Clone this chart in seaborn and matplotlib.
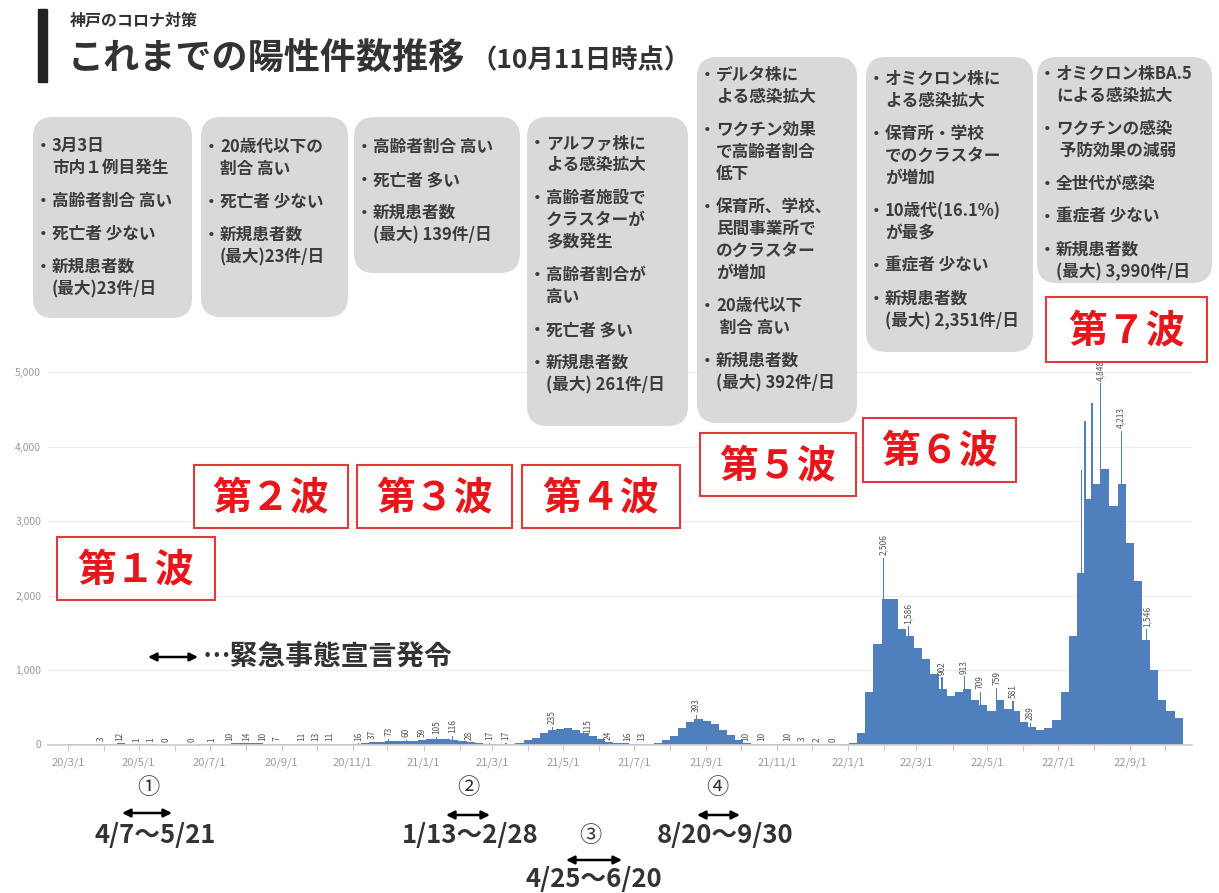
import numpy as np
import pandas as pd
import matplotlib.pyplot as plt
import matplotlib.dates as mdates
from matplotlib.patches import FancyBboxPatch, Rectangle
import seaborn as sns

sns.set_theme(style='white')
plt.rcParams['font.family'] = ['Noto Sans CJK JP', 'DejaVu Sans']

W, H = 1219, 893
BAR = '#4f7fbd'
TXT = '#3c3c3c'
RED = '#e8161b'

# weekly new cases, weeks starting 2020-03-01 (estimated from the chart)
weekly_cases = [
    2, 3, 4, 5, 8, 12, 14, 10, 6, 2,
    1, 0, 0, 0, 0, 0, 1, 1, 3, 8,
    14, 16, 18, 15, 10, 8, 5, 4, 5, 3,
    5, 6, 4, 5, 6, 10, 18, 30, 38, 42,
    48, 52, 50, 60, 75, 75, 70, 65, 45, 30,
    20, 12, 10, 10, 12, 20, 60, 90, 150, 190,
    210, 220, 190, 160, 110, 70, 35, 20, 15, 12,
    10, 12, 25, 60, 120, 220, 300, 340, 320, 280,
    200, 130, 60, 20, 12, 8, 6, 5, 5, 4,
    4, 3, 3, 3, 3, 6, 20, 150, 700, 1350,
    1950, 1950, 1550, 1450, 1300, 1150, 950, 750, 650, 700,
    750, 600, 530, 450, 600, 480, 450, 300, 240, 200,
    220, 330, 700, 1450, 2300, 3300, 3500, 3700, 3200, 3500,
    2700, 2200, 1400, 1000, 600, 450, 350,
]

# single days that carry a value label on the chart
label_dates = [
    '2020-03-30', '2020-04-15', '2020-04-29', '2020-05-11', '2020-05-25',
    '2020-06-16', '2020-07-03', '2020-07-18', '2020-08-02', '2020-08-16',
    '2020-08-28', '2020-09-18', '2020-09-30', '2020-10-12', '2020-11-06',
    '2020-11-18', '2020-12-02', '2020-12-17', '2020-12-31', '2021-01-12',
    '2021-01-26', '2021-02-09', '2021-02-27', '2021-03-13', '2021-04-22',
    '2021-05-22', '2021-06-09', '2021-06-26', '2021-07-08', '2021-08-24',
    '2021-10-05', '2021-10-19', '2021-11-10', '2021-11-23', '2021-12-06',
    '2021-12-19',
    '2022-02-01', '2022-02-22', '2022-03-23', '2022-04-11', '2022-04-25',
    '2022-05-09', '2022-05-23', '2022-06-07', '2022-08-06', '2022-08-24',
    '2022-09-15',
]
label_values = [
    3, 12, 1, 1, 0, 0, 1, 10, 14, 10,
    7, 11, 13, 11, 16, 37, 73, 60, 59, 105,
    116, 28, 17, 17, 235, 115, 24, 16, 13, 393,
    10, 10, 10, 3, 2, 0,
    2506, 1586, 902, 913, 709, 759, 581, 289, 4848, 4213,
    1546,
]

# other tall single days in the 7th wave
spike_dates = ['2022-07-21', '2022-07-24', '2022-07-30']
spike_values = [3680, 4340, 4590]

y_ticks = [0, 1000, 2000, 3000, 4000, 5000]

wave_names = ['第１波', '第２波', '第３波', '第４波', '第５波', '第６波', '第７波']

notes = [
    [['3月3日', '市内１例目発生'], ['高齢者割合 高い'], ['死亡者 少ない'], ['新規患者数', '(最大)23件/日']],
    [['20歳代以下の', '割合 高い'], ['死亡者 少ない'], ['新規患者数', '(最大)23件/日']],
    [['高齢者割合 高い'], ['死亡者 多い'], ['新規患者数', '(最大) 139件/日']],
    [['アルファ株に', 'よる感染拡大'], ['高齢者施設で', 'クラスターが', '多数発生'],
     ['高齢者割合が', '高い'], ['死亡者 多い'], ['新規患者数', '(最大) 261件/日']],
    [['デルタ株に', 'よる感染拡大'], ['ワクチン効果', 'で高齢者割合', '低下'],
     ['保育所、学校、', '民間事業所で', 'のクラスター', 'が増加'], ['20歳代以下', ' 割合 高い'],
     ['新規患者数', '(最大) 392件/日']],
    [['オミクロン株に', 'よる感染拡大'], ['保育所・学校', 'でのクラスター', 'が増加'],
     ['10歳代(16.1%)', 'が最多'], ['重症者 少ない'], ['新規患者数', '(最大) 2,351件/日']],
    [['オミクロン株BA.5', 'による感染拡大'], ['ワクチンの感染', ' 予防効果の減弱'], ['全世代が感染'],
     ['重症者 少ない'], ['新規患者数', '(最大) 3,990件/日']],
]

emergency_no = ['①', '②', '③', '④']
emergency_periods = ['4/7～5/21', '1/13～2/28', '4/25～6/20', '8/20～9/30']

fig = plt.figure(figsize=(W / 100, H / 100), dpi=100)
ax = fig.add_axes([48 / W, 1 - 744.5 / H, (1192 - 48) / W, (744.5 - 372) / H])

# weekly bars
week_start = pd.date_range('2020-03-01', periods=len(weekly_cases), freq='7D')
week_x = mdates.date2num(week_start) + 3.5
sns.barplot(x=week_x, y=weekly_cases, native_scale=True, orient='x', width=1.0,
            color=BAR, saturation=1, errorbar=None, linewidth=0, ax=ax)

# labelled days and spikes as single-day bars
lab_x = mdates.date2num(pd.to_datetime(label_dates))
spk_x = mdates.date2num(pd.to_datetime(spike_dates))
ax.bar(lab_x, label_values, width=1.0, color=BAR, linewidth=0)
ax.bar(spk_x, spike_values, width=1.0, color=BAR, linewidth=0)
for x, v in zip(lab_x, label_values):
    ax.annotate(f'{v:,}', (x, v), xytext=(0, 2), textcoords='offset points',
                rotation=90, ha='center', va='bottom', fontsize=6, color='#555555',
                annotation_clip=False)

# axes styling
ax.set_xlim(mdates.date2num(pd.Timestamp('2020-02-13')), mdates.date2num(pd.Timestamp('2022-10-24')))
ax.set_ylim(0, 5000)
months = pd.date_range('2020-03-01', '2022-10-01', freq='MS')
ax.set_xticks(mdates.date2num(months[::2]))
ax.set_xticklabels([f'{d.year % 100}/{d.month}/1' for d in months[::2]])
ax.set_xticks(mdates.date2num(months), minor=True)
ax.tick_params(axis='x', which='both', bottom=True, length=4, width=0.8, color='#cccccc',
               labelsize=8, labelcolor='#9a9a9a', pad=5)
ax.set_yticks(y_ticks)
ax.set_yticklabels([f'{v:,}' for v in y_ticks])
ax.tick_params(axis='y', length=0, labelsize=7.5, labelcolor='#9a9a9a', pad=5)
ax.grid(axis='y', color='#ececec', linewidth=0.8)
ax.grid(axis='x', visible=False)
for s in ['top', 'right', 'left']:
    ax.spines[s].set_visible(False)
ax.spines['bottom'].set_color('#d0d0d0')
ax.set_xlabel('')
ax.set_ylabel('')

# overlay in pixel coordinates for the annotations
ov = fig.add_axes([0, 0, 1, 1])
ov.set_xlim(0, W)
ov.set_ylim(H, 0)
ov.axis('off')
ov.patch.set_alpha(0)

# title
ov.add_patch(Rectangle((38, 9), 9, 73, color='#222222'))
ov.text(70, 21, '神戸のコロナ対策', fontsize=11.5, weight='bold', color='#333333', va='center')
ov.text(68, 59, 'これまでの陽性件数推移', fontsize=26, weight='bold', color='#333333', va='center')
ov.text(470, 61, '（10月11日時点）', fontsize=19, weight='bold', color='#333333', va='center')

# grey note boxes
box_geom = [(33, 117, 192, 318, 146), (201, 117, 348, 317, 147), (354, 117, 520, 273, 147),
            (527, 117, 688, 426, 143), (697, 57, 857, 423, 75), (866, 57, 1033, 352, 79),
            (1037, 57, 1212, 283, 74)]
for (x0, y0, x1, y1, ty), items in zip(box_geom, notes):
    ov.add_patch(FancyBboxPatch((x0, y0), x1 - x0, y1 - y0,
                                boxstyle='round,pad=0,rounding_size=20', fc='#d9d9d9', ec='none'))
    y = ty
    for item in items:
        ov.text(x0 + 10, y, '・', fontsize=12, weight='bold', color=TXT, ha='center', va='center')
        for line in item:
            ov.text(x0 + 19, y, line, fontsize=12, weight='bold', color=TXT, va='center')
            y += 22
        y += 11

# wave labels
wave_geom = [(57, 537, 215, 600), (194, 465, 348, 528), (357, 465, 512, 528), (522, 465, 680, 528),
             (700, 433, 856, 496), (863, 418, 1016, 482), (1046, 297, 1207, 362)]
for (x0, y0, x1, y1), name in zip(wave_geom, wave_names):
    ov.add_patch(Rectangle((x0, y0), x1 - x0, y1 - y0, fc='white', ec='#e03a3a', lw=1.5))
    ov.text((x0 + x1) / 2, (y0 + y1) / 2 + 1, name, fontsize=28, weight='bold', color=RED,
            ha='center', va='center')

# emergency declaration legend
arrow_kw = dict(arrowstyle='<|-|>', color='black', lw=1.8, mutation_scale=12, shrinkA=0, shrinkB=0)
ov.annotate('', xy=(198, 657), xytext=(148, 657), arrowprops=arrow_kw)
ov.text(203, 657, '…緊急事態宣言発令', fontsize=20, weight='bold', color='#333333', va='center')

# emergency periods under the axis
no_pos = [(148, 788), (468, 788), (590, 835), (717, 788)]
arrow_pos = [(122, 172, 813), (446, 490, 815), (566, 622, 860), (697, 740, 815)]
period_pos = [(155, 835), (470, 835), (594, 880), (725, 835)]
for no, per, (nx, ny), (ax0, ax1, ay), (px, py) in zip(emergency_no, emergency_periods,
                                                      no_pos, arrow_pos, period_pos):
    ov.text(nx, ny, no, fontsize=16, color='#333333', ha='center', va='center')
    ov.annotate('', xy=(ax1, ay), xytext=(ax0, ay), arrowprops=arrow_kw)
    ov.text(px, py, per, fontsize=18.5, weight='bold', color='#333333', ha='center', va='center')

fig.savefig('out.png', dpi=100)
